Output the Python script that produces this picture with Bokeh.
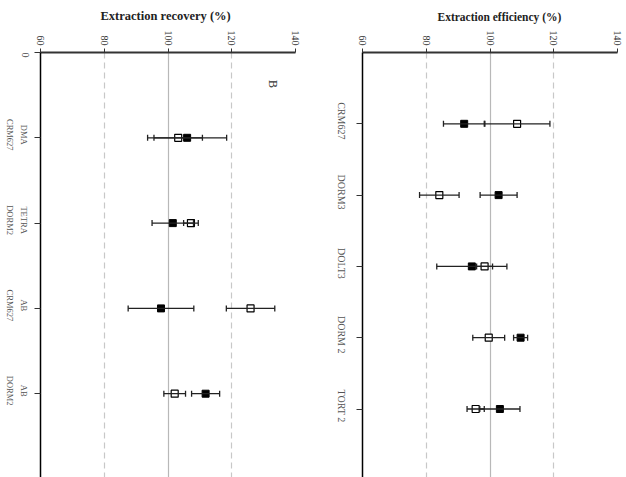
import math
from bokeh.plotting import figure
from bokeh.layouts import row
from bokeh.models import (Range1d, FixedTicker, Whisker, TeeHead, ColumnDataSource,
                          Grid, Label)
from bokeh.core.properties import value
from bokeh.embed import file_html
from bokeh.resources import INLINE

# ---- data: panel 1 (extraction recovery) ----
rec_cats = ["DMA\nCRM627", "TETRA\nDORM2", "AB\nCRM627", "AB\nDORM2"]
rec_filled = [106.0, 101.5, 97.8, 111.8]
rec_filled_err = [12.4, 6.5, 10.3, 4.4]
rec_open = [103.2, 107.2, 125.9, 102.1]
rec_open_err = [7.6, 2.3, 7.6, 3.4]

# ---- data: panel 2 (extraction efficiency) ----
eff_cats = ["CRM627", "DORM3", "DOLT3", "DORM 2", "TORT 2"]
eff_filled = [91.9, 102.7, 94.3, 109.6, 103.1]
eff_filled_err = [6.5, 5.8, 11.0, 2.2, 6.3]
eff_open = [108.5, 84.1, 98.3, 99.6, 95.5]
eff_open_err = [10.3, 6.2, 2.5, 5.0, 2.7]

x_ticks = [60, 80, 100, 120, 140]
solid_lines = [100, 140]
dashed_lines = [80, 120]

SERIF = "Liberation Serif"
H = 477
TOP = 52
FRAME_H = H - TOP


def panel(title, cats, filled, ferr, opn, oerr, lab_w, p_w, br, ymax, zero_label,
          label_x, zero_x, label_size, line_h, title_size, title_offset, panel_letter=None):
    n = len(cats)
    pos = list(range(1, n + 1))
    yr = Range1d(ymax, 0)

    # ---- narrow strip holding the category names ----
    lab = figure(width=lab_w, height=H, output_backend="svg", toolbar_location=None,
                 x_range=Range1d(0, lab_w), y_range=yr,
                 x_axis_location=None, y_axis_location=None,
                 min_border_left=0, min_border_right=0, min_border_top=TOP,
                 min_border_bottom=0)
    lab.outline_line_color = None
    lab.xgrid.visible = False
    lab.ygrid.visible = False
    cat_src = ColumnDataSource(dict(pos=pos, name=cats, lx=[label_x] * n))
    lab.text(x="lx", y="pos", text="name", source=cat_src, angle=-math.pi / 2,
             text_align="center", text_baseline="middle", y_offset=-3,
             text_font=value(SERIF), text_font_size=label_size,
             text_color="#555555", text_line_height=line_h)
    if zero_label:
        lab.text(x=[zero_x], y=[0], text=["0"], angle=-math.pi / 2,
                 text_align="left", text_baseline="middle",
                 text_font=value(SERIF), text_font_size="10px", text_color="#444444")

    # ---- the data panel ----
    p = figure(width=p_w, height=H, output_backend="svg", toolbar_location=None,
               x_range=Range1d(x_ticks[0], x_ticks[-1]), y_range=yr,
               x_axis_location="above", min_border_left=10, min_border_right=br,
               min_border_top=TOP, min_border_bottom=0, title=title)
    p.outline_line_color = None
    p.background_fill_color = "white"
    p.title.align = "left"
    p.title.offset = title_offset
    p.title.text_font = SERIF
    p.title.text_font_size = title_size
    p.title.text_font_style = "bold"
    p.title.text_color = "#222222"

    # top axis
    xa = p.xaxis[0]
    xa.ticker = FixedTicker(ticks=x_ticks)
    xa.axis_line_width = 2
    xa.axis_line_color = "#333333"
    xa.major_tick_line_color = "#333333"
    xa.major_tick_out = 4
    xa.major_tick_in = 0
    xa.minor_tick_line_color = None
    xa.major_label_orientation = -math.pi / 2
    xa.major_label_text_font = SERIF
    xa.major_label_text_font_size = "10px"
    xa.major_label_text_color = "#333333"
    xa.major_label_standoff = 3

    # left axis: line and category ticks (names live in the strip)
    ya = p.yaxis[0]
    ticks = ([0] if zero_label else []) + pos
    ya.ticker = FixedTicker(ticks=ticks)
    ya.major_label_overrides = {t: "" for t in ticks}
    ya.major_label_text_color = None
    ya.major_label_standoff = 0
    ya.axis_line_color = "black"
    ya.axis_line_width = 1.5
    ya.major_tick_out = 6
    ya.major_tick_in = 0
    ya.major_tick_line_color = "#333333"
    ya.minor_tick_line_color = None

    # grid lines
    p.xgrid.ticker = FixedTicker(ticks=solid_lines)
    p.xgrid.grid_line_color = "#b8b8b8"
    p.xgrid.grid_line_width = 1.2
    p.ygrid.grid_line_color = None
    g2 = Grid(dimension=0, ticker=FixedTicker(ticks=dashed_lines),
              grid_line_color="#c8c8c8", grid_line_dash="6 4", grid_line_width=1.2)
    p.add_layout(g2)

    src_f = ColumnDataSource(dict(pos=pos, x=filled,
                                  lo=[v - e for v, e in zip(filled, ferr)],
                                  hi=[v + e for v, e in zip(filled, ferr)]))
    src_o = ColumnDataSource(dict(pos=pos, x=opn,
                                  lo=[v - e for v, e in zip(opn, oerr)],
                                  hi=[v + e for v, e in zip(opn, oerr)]))
    for src in (src_f, src_o):
        w = Whisker(base="pos", lower="lo", upper="hi", dimension="width", source=src,
                    line_color="#222222", line_width=1.3,
                    upper_head=TeeHead(size=6, line_color="#222222", line_width=1.3),
                    lower_head=TeeHead(size=6, line_color="#222222", line_width=1.3))
        w.level = "glyph"
        p.add_layout(w)

    p.scatter("x", "pos", source=src_o, marker="square", size=7,
              fill_color="white", line_color="black", line_width=1.2)
    p.scatter("x", "pos", source=src_f, marker="square", size=7,
              fill_color="black", line_color="black")

    if panel_letter:
        p.add_layout(Label(x=133, y=0.37, text=panel_letter, angle=-math.pi / 2,
                           text_font=SERIF, text_font_size="12px", text_color="#333333",
                           text_align="center", text_baseline="middle"))
    return lab, p


lab1, p1 = panel("Extraction recovery (%)", rec_cats, rec_filled, rec_filled_err,
                 rec_open, rec_open_err, 30, 288, 23, FRAME_H / 85.3, True, 16, 25,
                 "8.5px", 1.4, "12.5px", 60, "B")
lab2, p2 = panel("Extraction efficiency (%)", eff_cats, eff_filled, eff_filled_err,
                 eff_open, eff_open_err, 34, 274, 9, FRAME_H / 71.3, False, 23, 0,
                 "10px", 1.15, "11.5px", 75)

layout = row(lab1, p1, lab2, p2)
open("out.html", "w").write(file_html(layout, INLINE))
